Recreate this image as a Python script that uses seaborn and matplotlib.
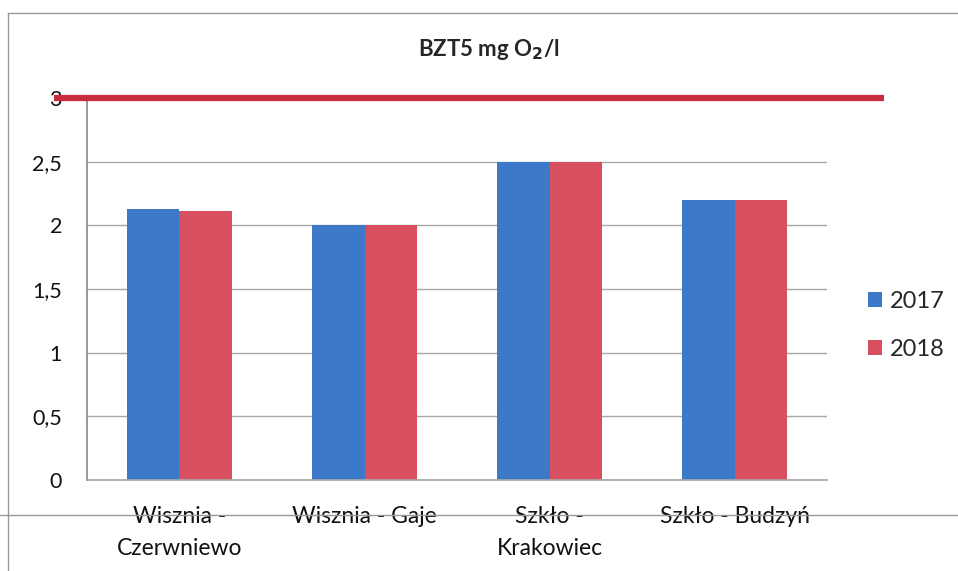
import matplotlib
matplotlib.use("Agg")
import matplotlib.pyplot as plt
from matplotlib.lines import Line2D
from matplotlib.ticker import FuncFormatter, MultipleLocator
import pandas as pd
import seaborn as sns

sites = ["Wisznia -\nCzerwniewo", "Wisznia - Gaje", "Szkło -\nKrakowiec", "Szkło - Budzyń"]
years = ["2017", "2018"]
bzt5_2017 = [2.13, 2.0, 2.5, 2.2]
bzt5_2018 = [2.11, 2.0, 2.5, 2.2]
limit = 3.0

df = pd.DataFrame({
    "site": sites * 2,
    "year": [years[0]] * 4 + [years[1]] * 4,
    "value": bzt5_2017 + bzt5_2018,
})

sns.set_theme(style="white")
plt.rcParams["font.family"] = ["Lato", "DejaVu Sans"]

fig = plt.figure(figsize=(9.58, 5.71), dpi=100)
ax = fig.add_axes([0.0908, 0.1594, 0.7725, 0.669])

sns.barplot(data=df, x="site", y="value", hue="year", order=sites,
            palette=["#3C79C8", "#D8505F"], width=0.57, saturation=1,
            linewidth=0, ax=ax)

ax.set_ylim(0, 3)
ax.set_xlim(-0.5, 3.5)
ax.yaxis.set_major_locator(MultipleLocator(0.5))
ax.yaxis.set_major_formatter(FuncFormatter(lambda v, p: f"{v:g}".replace(".", ",")))
ax.grid(axis="y", color="#a8a8a8", linewidth=1)
ax.set_axisbelow(True)
for s in ["top", "right"]:
    ax.spines[s].set_visible(False)
ax.spines["left"].set_color("#8c8c8c")
ax.spines["bottom"].set_color("#a8a8a8")
ax.tick_params(axis="y", length=0, pad=18, labelsize=15.5, colors="#111111")
ax.tick_params(axis="x", length=0, pad=19, labelsize=16.5, colors="#111111")
for t in ax.get_xticklabels():
    t.set_linespacing(1.6)
    t.set_verticalalignment("top")
ax.set_xlabel("")
ax.set_ylabel("")

# limit line, reaching past the plot area
ax.axhline(limit, xmin=-0.045, xmax=1.077, color="#C62B40", linewidth=4.5,
           solid_capstyle="butt", clip_on=False, zorder=5)

ax.legend(loc="center left", bbox_to_anchor=(1.026, 0.405), frameon=False,
          fontsize=17, handlelength=0.6, handleheight=0.6, handletextpad=0.35,
          labelspacing=1.15)

fig.text(0.51, 0.913, r"BZT5 mg O$_\mathbf{2}$/l", ha="center", va="center",
         fontsize=16, fontweight="bold")

# scanned frame lines
fig.add_artist(Line2D([0.008, 1.0], [0.977, 0.977], color="#999999", lw=1))
fig.add_artist(Line2D([0.008, 0.008], [0.0, 0.977], color="#999999", lw=1))
fig.add_artist(Line2D([0.0, 1.0], [0.098, 0.098], color="#999999", lw=1))

fig.savefig("out.png", dpi=100)
